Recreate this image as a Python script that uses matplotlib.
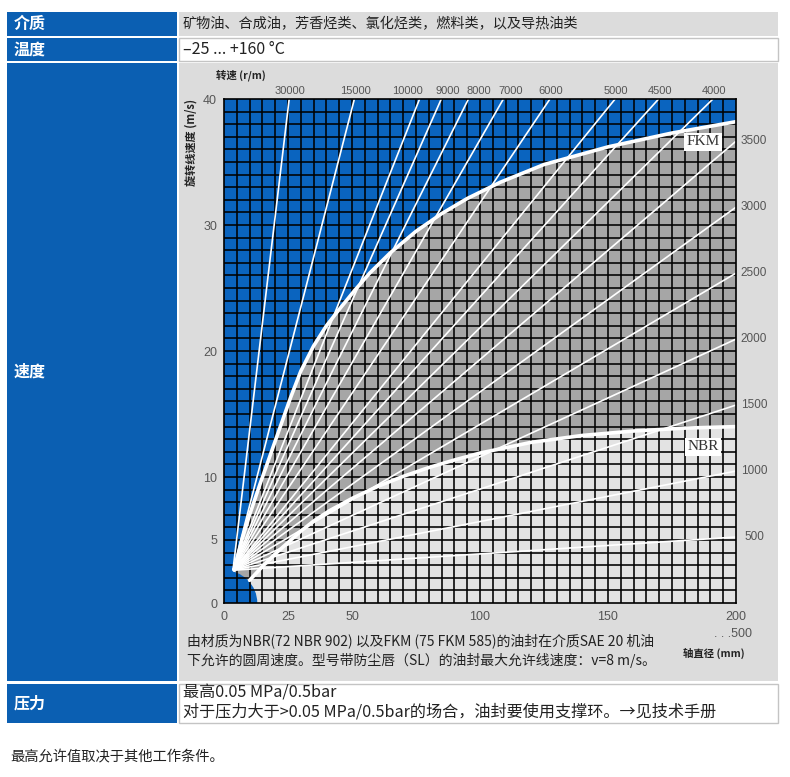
import numpy as np
import matplotlib
matplotlib.use('Agg')
import matplotlib.pyplot as plt
from matplotlib.patches import Rectangle, Ellipse

plt.rcParams['font.family'] = ['Noto Sans CJK SC', 'DejaVu Sans']

# rpm lines, labelled along the top and along the right edge
rpm_top = [30000, 15000, 10000, 9000, 8000, 7000, 6000, 5000, 4500, 4000]
rpm_right = [3500, 3000, 2500, 2000, 1500, 1000, 500]

# limit curves: shaft dia (mm) -> speed (m/s)
fkm_d = [4, 7, 10, 14, 18, 22, 26, 30, 35, 40, 45, 51, 57, 65, 75, 85, 95, 108, 125, 150, 175, 200]
fkm_v = [2.6, 5.0, 7.0, 9.4, 11.7, 14.0, 16.3, 18.4, 20.4, 22.0, 23.3, 24.8, 26.2,
         27.8, 29.5, 30.9, 32.1, 33.4, 34.8, 36.2, 37.3, 38.2]
nbr_d = [10, 15, 20, 25, 30, 35, 41, 50, 60, 70, 80, 90, 100, 120, 140, 160, 180, 200]
nbr_v = [1.8, 2.9, 3.9, 4.8, 5.7, 6.5, 7.3, 8.3, 9.25, 10.05, 10.75, 11.35, 11.9,
         12.75, 13.3, 13.65, 13.88, 14.0]

x_ticks = [0, 25, 50, 100, 150, 200]
y_ticks = [0, 5, 10, 20, 30, 40]
hub = (3.5, 2.6)   # point the rpm lines fan out from
top_nudge = {10000: -13, 9000: 5, 8000: 9, 7000: 6}   # label shifts, px

rows = [('介质', 12, 36), ('温度', 38, 61), ('速度', 63, 681), ('压力', 684, 723)]
medium = '矿物油、合成油，芳香烃类、氯化烃类，燃料类，以及导热油类'
temp = '–25 ... +160 °C'
press1 = '最高0.05 MPa/0.5bar'
press2 = '对于压力大于>0.05 MPa/0.5bar的场合，油封要使用支撑环。→见技术手册'
note1 = '由材质为NBR(72 NBR 902) 以及FKM (75 FKM 585)的油封在介质SAE 20 机油'
note2 = '下允许的圆周速度。型号带防尘唇（SL）的油封最大允许线速度：v=8 m/s。'
footer = '最高允许值取决于其他工作条件。'

BLUE = '#0a64bf'
COLBLUE = '#0b5fb2'
GRAY = '#dcdcdc'
NUMFONT = ['Liberation Sans', 'DejaVu Sans']

W, H = 790, 777
fig = plt.figure(figsize=(W / 100, H / 100), dpi=100)
fig.patch.set_facecolor('white')

# page / table layer in pixel coords
bg = fig.add_axes([0, 0, 1, 1])
bg.set_xlim(0, W)
bg.set_ylim(H, 0)
bg.axis('off')

for i, (lab, y0, y1) in enumerate(rows):
    bg.add_patch(Rectangle((7, y0), 170, y1 - y0, color=COLBLUE, lw=0))
    if i in (0, 2):
        bg.add_patch(Rectangle((179, y0), 599, y1 - y0, color=GRAY, lw=0))
    else:
        bg.add_patch(Rectangle((179, y0), 599, y1 - y0, facecolor='white',
                               edgecolor='#c4c4c4', lw=1))
    bg.text(14, (y0 + y1) / 2, lab, color='white', fontsize=11.5,
            fontweight='bold', va='center', ha='left')

bg.text(183, 24, medium, fontsize=10.2, color='#222', va='center')
bg.text(183, 49, temp, fontsize=11.5, color='#222', va='center')
bg.text(183, 693, press1, fontsize=11.6, color='#222', va='center')
bg.text(183, 712, press2, fontsize=11.6, color='#222', va='center')
bg.text(187, 641, note1, fontsize=10, color='#222', va='center')
bg.text(187, 660, note2, fontsize=10, color='#222', va='center')
bg.text(10, 757, footer, fontsize=10.3, color='#222', va='center')

bg.text(216, 75, '转速 (r/m)', fontsize=7.5, fontweight='bold', color='#222', va='center')
bg.text(683, 653, '轴直径 (mm)', fontsize=7.5, fontweight='bold', color='#222', va='center')
bg.text(191, 99, '旋转线速度 (m/s)', fontsize=8, fontweight='bold', color='#222',
        rotation=90, va='top', ha='center')
bg.text(752, 634, '. . .500', fontsize=9, color='#555', va='center', ha='right',
        family=NUMFONT)

# chart
ax = fig.add_axes([224 / W, 1 - 603 / H, 512 / W, 504 / H])
ax.set_xlim(0, 200)
ax.set_ylim(0, 40)
ax.set_facecolor('#e3e3e3')

ax.fill(nbr_d + [200, 0, 0], nbr_v + [40, 40, 0], color='#a6a6a6', lw=0, zorder=1)
ax.fill(fkm_d + [200, 0, 0], fkm_v + [40, 40, 0], color=BLUE, lw=0, zorder=2)
ax.add_patch(Ellipse((0, 0), 26, 5.2, color=BLUE, lw=0, zorder=2.5))

ax.vlines(np.arange(5, 200, 5), 0, 40, color='black', lw=1.15, zorder=3)
ax.hlines(np.arange(1, 40, 1), 0, 200, color='black', lw=1.15, zorder=3)

for n in rpm_top + rpm_right:
    k = np.pi * n / 60000.0
    if k * 200 > 40:
        xe, ye = 40 / k, 40
    else:
        xe, ye = 200, k * 200
    ax.plot([hub[0], xe], [hub[1], ye], color='white', lw=1.2, zorder=4,
            solid_capstyle='butt')
    if ye == 40:
        ax.annotate(str(n), (xe, ye), xytext=(1 + top_nudge.get(n, 0), 3),
                    textcoords='offset pixels', ha='center', va='bottom',
                    fontsize=8, color='#555', family=NUMFONT, annotation_clip=False)
    else:
        ax.annotate(str(n), (xe, ye), xytext=(18, 0), textcoords='offset pixels',
                    ha='center', va='center', fontsize=8.5, color='#555',
                    family=NUMFONT, annotation_clip=False)

ax.plot(fkm_d, fkm_v, color='white', lw=2.6, zorder=5, solid_capstyle='round')
ax.plot(nbr_d, nbr_v, color='white', lw=2.6, zorder=5, solid_capstyle='round')

box = dict(boxstyle='square,pad=0.15', fc='white', ec='none')
ax.text(187, 36.6, 'FKM', fontsize=11, family=['Liberation Serif'], color='#333',
        ha='center', va='center', bbox=box, zorder=6)
ax.text(187, 12.4, 'NBR', fontsize=11, family=['Liberation Serif'], color='#333',
        ha='center', va='center', bbox=box, zorder=6)

ax.set_xticks(x_ticks)
ax.set_yticks(y_ticks)
ax.tick_params(length=0, labelsize=9, labelcolor='#555')
ax.tick_params(axis='x', pad=6)
ax.tick_params(axis='y', pad=5)
for t in ax.get_xticklabels() + ax.get_yticklabels():
    t.set_family(NUMFONT)
for s in ax.spines.values():
    s.set_color('black')
    s.set_linewidth(1.2)
    s.set_zorder(6)

fig.savefig('out.png', dpi=100)
